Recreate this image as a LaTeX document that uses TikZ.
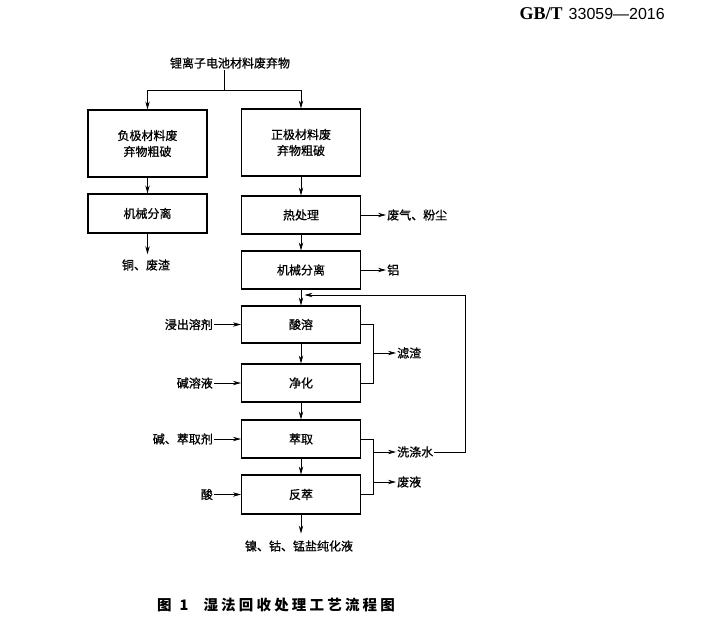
\documentclass[tikz,border=0pt]{standalone}
\usepackage{fontspec}
\setmainfont{Liberation Serif}
\newfontfamily\hdsans{Liberation Sans}
\newfontfamily\cjk[FakeBold=0.8]{Noto Sans CJK SC}
\newfontfamily\cjkcap[LetterSpace=22]{Noto Sans CJK SC}
\usetikzlibrary{arrows.meta}

\begin{document}
\begin{tikzpicture}[x=1pt,y=-1pt,
  proc/.style={rectangle,draw,line width=1.1pt,minimum width=119pt,minimum height=38pt,
    inner sep=0pt,align=center,font=\cjk\fontsize{12}{16}\selectfont},
  lbl/.style={inner sep=1pt,font=\cjk\fontsize{12}{16}\selectfont},
  flow/.style={-{Stealth[length=8pt,width=4.4pt]},line width=0.7pt},
  rail/.style={line width=1pt}]
\useasboundingbox (0,0) rectangle (711,637);

% Header
\node[anchor=east,inner sep=0pt] (std) at (665,14)
  {\fontsize{18}{20}\selectfont\textbf{GB/T}\hspace{6pt}{\hdsans\fontsize{16}{20}\selectfont 33059—2016}};

% Raw material
\node[lbl] (waste) at (230,63) {锂离子电池材料废弃物};
\coordinate (fork) at (224,90);
\draw[line width=0.7pt] (waste.south -| fork) -- (fork);

% Negative electrode
\node[proc,minimum height=67pt] (negcrush) at (147.5,143.5) {负极材料废\\弃物粗破};
\node[proc,minimum height=39pt] (negsep) at (147.5,213.5) {机械分离};
\node[lbl] (copper) at (146,265) {铜、废渣};
\draw[flow] (fork) -| (negcrush.north);
\draw[flow] (negcrush) -- (negsep);
\draw[flow,shorten >=4pt] (negsep.south) -- (negsep.south |- copper.north);

% Positive electrode
\node[proc,minimum height=67pt] (poscrush) at (301,142.5) {正极材料废\\弃物粗破};
\node[proc] (heat) at (301,215) {热处理};
\node[lbl,anchor=west] (dust) at (386,215) {废气、粉尘};
\node[proc] (possep) at (301,270) {机械分离};
\node[lbl,anchor=west] (alu) at (386,270) {铝};
\draw[flow] (fork) -| (poscrush.north);
\draw[flow] (poscrush) -- (heat);
\draw[flow] (heat) -- (dust);
\draw[flow] (heat) -- (possep);
\draw[flow] (possep) -- (alu);

% Wet process
\node[proc,minimum height=37pt] (leach) at (301,324.5) {酸溶};
\node[lbl,anchor=east] (solvent) at (214,324.5) {浸出溶剂};
\node[proc] (purify) at (301,383) {净化};
\node[lbl,anchor=east] (lye) at (214,383) {碱溶液};
\node[proc] (extract) at (301,439) {萃取};
\node[lbl,anchor=east] (extagent) at (214,439) {碱、萃取剂};
\node[proc,minimum height=39pt] (strip) at (301,494.5) {反萃};
\node[lbl,anchor=east] (acidin) at (214,494.5) {酸};
\node[lbl] (product) at (299,546) {镍、钴、锰盐纯化液};
\draw[flow] (possep) -- (leach);
\draw[flow] (solvent) -- (leach);
\draw[flow] (lye) -- (purify);
\draw[flow] (extagent) -- (extract);
\draw[flow] (acidin) -- (strip);
\draw[flow] (leach) -- (purify);
\draw[flow] (purify) -- (extract);
\draw[flow] (extract) -- (strip);
\draw[flow] (strip.south) -- ++(0,19);

% By-products
\coordinate (residuefork) at (373,353);
\coordinate (washfork) at (373,452);
\coordinate (spentfork) at (373,482);
\node[lbl,anchor=west] (residue) at (396,353) {滤渣};
\node[lbl,anchor=west] (wash) at (396,452) {洗涤水};
\node[lbl,anchor=west] (spent) at (396,482) {废液};
\draw[rail] (leach.east) -| (residuefork |- purify.east) -- (purify.east);
\draw[rail] (extract.east) -| (washfork |- strip.east) -- (strip.east);
\draw[flow] (residuefork) -- (residue);
\draw[flow] (washfork) -- (wash);
\draw[flow] (spentfork) -- (spent);

% Wash water back to leaching
\coordinate (loop) at (465,295);
\coordinate (merge) at (302,295);
\draw[flow,shorten >=2.5pt] (wash.east) -| (loop) -- (merge);

% Caption
\node[anchor=west,inner sep=0pt] (caption) at (157,605)
  {\cjkcap\fontsize{14.5}{16}\selectfont\bfseries 图\hspace{8pt}1\hspace{15pt}湿法回收处理工艺流程图};
\end{tikzpicture}
\end{document}
